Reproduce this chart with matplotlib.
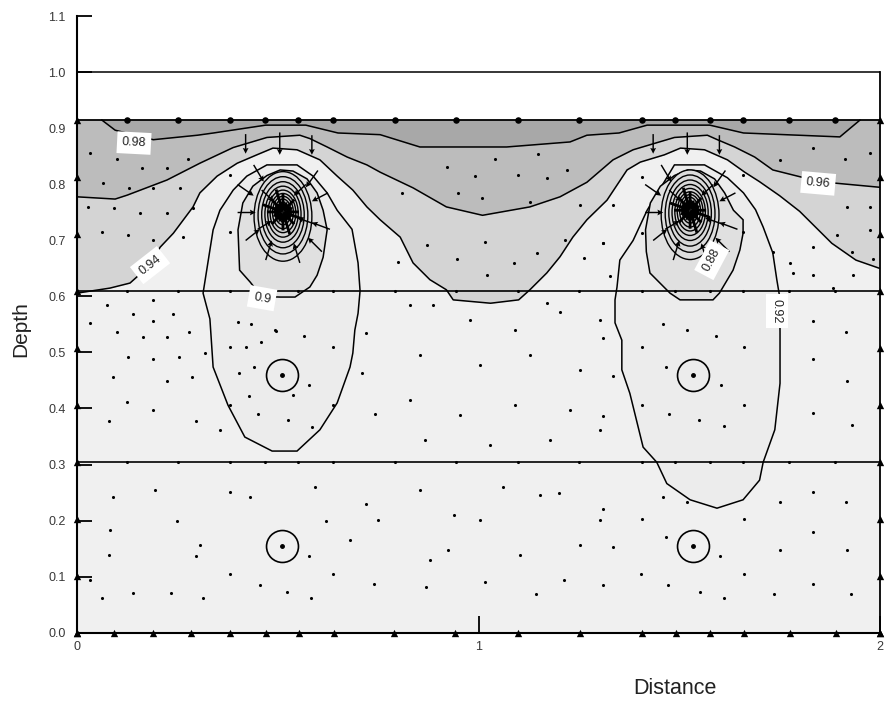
import numpy as np
import matplotlib
matplotlib.use("Agg")
import matplotlib.pyplot as plt
from matplotlib.patches import Ellipse

plt.rcParams['font.family'] = ['Liberation Sans', 'DejaVu Sans']

# ---------------- data ----------------
y_ticks = [0.0, 0.1, 0.2, 0.3, 0.4, 0.5, 0.6, 0.7, 0.8, 0.9, 1.0, 1.1]
y_tick_labels = ['0.0', '0.1', '0.2', '0.3', '0.4', '0.5', '0.6', '0.7', '0.8', '0.9', '1.0', '1.1']
x_ticks = [0, 1, 2]
x_tick_labels = ['0', '1', '2']

ground = 0.915
top_line = 1.0
layers = [0.305, 0.61]

# open contours spanning the section (value, x, y)
c98_x = [0.062, 0.095, 0.19, 0.30, 0.34, 0.47, 0.57, 0.65, 0.755, 0.854, 1.07, 1.228, 1.27, 1.35, 1.42, 1.576, 1.66, 1.90, 1.95]
c98_y = [0.915, 0.897, 0.880, 0.888, 0.892, 0.906, 0.906, 0.892, 0.889, 0.867, 0.867, 0.876, 0.888, 0.892, 0.906, 0.906, 0.892, 0.885, 0.915]

c96_x = [0.0, 0.095, 0.125, 0.224, 0.306, 0.389, 0.473, 0.555, 0.58, 0.623, 0.673, 0.722, 0.755, 0.837, 0.92, 1.01, 1.128, 1.203, 1.27, 1.335, 1.385, 1.488, 1.57, 1.595, 1.638, 1.688, 1.733, 1.85, 2.0]
c96_y = [0.778, 0.774, 0.781, 0.808, 0.838, 0.866, 0.884, 0.888, 0.882, 0.867, 0.849, 0.835, 0.822, 0.794, 0.760, 0.745, 0.760, 0.778, 0.804, 0.844, 0.862, 0.884, 0.888, 0.880, 0.867, 0.849, 0.826, 0.805, 0.795]

c94_x = [0.0, 0.082, 0.132, 0.182, 0.207, 0.24, 0.289, 0.306, 0.349, 0.399, 0.448, 0.488, 0.548, 0.605, 0.648, 0.687, 0.722, 0.755, 0.805, 0.837, 0.879, 0.92, 0.937, 1.03, 1.10, 1.128, 1.17, 1.203, 1.235, 1.27, 1.32, 1.37, 1.403, 1.463, 1.503, 1.563, 1.62, 1.663, 1.70, 1.75, 1.80, 1.88, 1.94, 2.0]
c94_y = [0.606, 0.615, 0.624, 0.656, 0.688, 0.713, 0.760, 0.785, 0.815, 0.838, 0.853, 0.865, 0.862, 0.844, 0.815, 0.790, 0.760, 0.737, 0.706, 0.660, 0.630, 0.612, 0.594, 0.588, 0.594, 0.612, 0.642, 0.671, 0.706, 0.737, 0.772, 0.826, 0.840, 0.853, 0.865, 0.862, 0.844, 0.822, 0.805, 0.780, 0.752, 0.695, 0.665, 0.650]

# closed 0.92 contours
l92_x = [0.473, 0.548, 0.588, 0.623, 0.648, 0.685, 0.70, 0.705, 0.70, 0.692, 0.687, 0.68, 0.648, 0.605, 0.548, 0.486, 0.418, 0.376, 0.339, 0.334, 0.331, 0.314, 0.331, 0.339, 0.356, 0.389, 0.423]
l92_y = [0.835, 0.835, 0.815, 0.785, 0.754, 0.720, 0.660, 0.610, 0.570, 0.540, 0.499, 0.474, 0.410, 0.362, 0.324, 0.324, 0.349, 0.406, 0.474, 0.528, 0.560, 0.606, 0.683, 0.719, 0.754, 0.790, 0.815]
r92_x = [1.488, 1.563, 1.62, 1.66, 1.69, 1.709, 1.733, 1.743, 1.75, 1.751, 1.751, 1.738, 1.709, 1.70, 1.659, 1.594, 1.527, 1.469, 1.444, 1.41, 1.377, 1.357, 1.357, 1.34, 1.34, 1.345, 1.352, 1.385, 1.42, 1.452]
r92_y = [0.835, 0.835, 0.812, 0.785, 0.755, 0.724, 0.678, 0.630, 0.600, 0.537, 0.445, 0.362, 0.304, 0.272, 0.237, 0.222, 0.237, 0.266, 0.304, 0.331, 0.427, 0.469, 0.522, 0.553, 0.594, 0.617, 0.665, 0.700, 0.754, 0.792]

# closed 0.90 contours
l90_x = [0.506, 0.538, 0.573, 0.598, 0.613, 0.623, 0.613, 0.598, 0.58, 0.543, 0.506, 0.46, 0.431, 0.405, 0.401, 0.413, 0.438, 0.473]
l90_y = [0.826, 0.824, 0.810, 0.785, 0.754, 0.719, 0.670, 0.638, 0.617, 0.599, 0.599, 0.600, 0.626, 0.647, 0.719, 0.767, 0.797, 0.816]
r90_x = [1.521, 1.553, 1.588, 1.613, 1.635, 1.659, 1.659, 1.651, 1.634, 1.60, 1.584, 1.502, 1.477, 1.427, 1.418, 1.416, 1.428, 1.453, 1.488]
r90_y = [0.826, 0.824, 0.810, 0.785, 0.754, 0.737, 0.713, 0.683, 0.647, 0.606, 0.594, 0.594, 0.606, 0.642, 0.680, 0.719, 0.767, 0.797, 0.816]

# drains (singular points) and inner rings (0.88, 0.86, ... ) half sizes
sink_x = [0.513, 1.527]
sink_y = [0.751, 0.754]
ring_hw = [0.072, 0.062, 0.053, 0.045, 0.038, 0.032, 0.026, 0.020, 0.015, 0.010, 0.006]
ring_hh = [0.080, 0.069, 0.059, 0.050, 0.042, 0.035, 0.029, 0.023, 0.017, 0.012, 0.007]
ring_dy = [-0.008, -0.006, -0.005, -0.004, -0.003, -0.002, -0.001, 0.0, 0.0, 0.0, 0.0]
ring_gray = ['#dcdcdc', '#dadada', '#d8d8d8', '#d6d6d6', '#d4d4d4', '#d2d2d2', '#d0d0d0', '#cecece', '#cccccc', '#cacaca', '#c8c8c8']

# band fills
col_low = '#f0f0f0'
col_94 = '#d4d4d4'
col_96 = '#bcbcbc'
col_98 = '#a8a8a8'
col_92 = '#ececec'
col_90 = '#e0e0e0'

# contour labels: text, x, y, rotation
lab_txt = ['0.98', '0.96', '0.94', '0.9', '0.88', '0.92']
lab_x = [0.142, 1.846, 0.182, 0.461, 1.581, 1.743]
lab_y = [0.874, 0.802, 0.656, 0.597, 0.665, 0.574]
lab_rot = [-3, -5, 38, -10, 62, -90]

# boundary nodes
top_nodes_x = [0.125, 0.252, 0.381, 0.468, 0.55, 0.638, 0.792, 0.944, 1.098, 1.25, 1.407, 1.489, 1.577, 1.659, 1.773, 1.888]
bottom_nodes_x = [0.0, 0.092, 0.189, 0.284, 0.381, 0.47, 0.552, 0.64, 0.79, 0.941, 1.098, 1.253, 1.407, 1.492, 1.577, 1.661, 1.776, 1.89, 2.0]
side_nodes_y = [0.0, 0.1017, 0.203, 0.305, 0.407, 0.508, 0.61, 0.712, 0.813, 0.915]

# observation circles
circ_x = [0.511, 0.511, 1.534, 1.534]
circ_y = [0.46, 0.154, 0.46, 0.154]

# interior points
pts_x = [0.079, 0.296, 0.577, 0.925, 1.601, 1.751, 1.918, 0.38, 0.638, 1.405, 1.661, 0.456, 0.74, 0.868, 1.015, 1.214, 1.31, 1.473, 1.833,
         0.062, 0.14, 0.235, 0.313, 0.524, 0.584, 1.142, 1.552, 1.611, 1.736, 1.929,
         0.032, 0.1, 0.162, 0.224, 0.276, 0.065, 0.13, 0.189, 0.257, 0.027, 0.092, 0.157, 0.224, 0.289, 0.062, 0.127, 0.189, 0.264, 0.381, 0.381,
         0.922, 1.041, 1.148, 1.22, 1.009, 1.128, 1.253, 0.809, 0.872, 1.016, 1.146, 1.215, 1.31, 1.335, 0.949, 0.991, 1.171, 1.098, 0.946, 1.088, 1.021, 1.263, 0.8, 0.887, 1.171, 1.328,
         0.075, 0.189, 0.189, 0.1, 0.139, 0.239, 0.279, 0.032, 0.164, 0.224, 0.127, 0.189, 0.254, 0.319, 0.09, 0.224, 0.286, 0.125, 0.189, 0.08, 0.296, 0.356,
         0.381, 0.421, 0.441, 0.451, 0.526, 0.493, 0.433, 0.401, 0.458, 0.403, 0.428, 0.538,
         0.496, 0.565, 0.72, 0.638, 0.578, 0.71, 0.585, 0.742, 0.638, 0.381,
         1.31, 1.407, 1.46, 1.519, 1.592, 1.661, 1.833, 1.915, 1.335, 1.467, 1.604, 1.833, 1.918, 1.407, 1.474, 1.549, 1.611, 1.661, 1.833, 1.93, 1.31,
         1.46, 1.519, 1.751, 1.833, 1.915, 1.31, 1.407, 1.661, 1.833, 1.467, 1.335,
         1.833, 1.913, 1.975, 1.918, 1.975, 1.893, 1.975, 1.93, 1.983, 1.833, 1.776, 1.751, 1.659, 1.407, 1.31, 1.407, 1.659, 1.733, 1.783, 1.833, 1.883, 1.933,
         0.829, 0.979, 1.091, 1.203, 1.303, 0.854, 1.004, 1.128, 1.253, 0.829, 0.954, 1.091, 1.228, 0.867, 1.029, 1.178, 1.303,
         0.09, 0.194, 0.381, 0.593, 0.75, 0.431, 0.082, 0.306, 0.68, 0.854, 1.004, 1.153, 1.303, 0.879, 1.103, 1.253, 0.032, 0.72, 0.62, 0.25, 1.06, 1.2, 0.94]
pts_y = [0.139, 0.137, 0.137, 0.147, 0.137, 0.147, 0.147, 0.104, 0.104, 0.104, 0.104, 0.084, 0.087, 0.082, 0.09, 0.093, 0.084, 0.084, 0.087,
         0.062, 0.071, 0.071, 0.062, 0.073, 0.062, 0.068, 0.073, 0.062, 0.068, 0.068,
         0.856, 0.846, 0.829, 0.829, 0.846, 0.803, 0.794, 0.794, 0.794, 0.76, 0.758, 0.749, 0.749, 0.758, 0.715, 0.71, 0.701, 0.706, 0.817, 0.715,
         0.831, 0.846, 0.854, 0.826, 0.776, 0.769, 0.763, 0.785, 0.692, 0.697, 0.678, 0.701, 0.696, 0.763, 0.785, 0.815, 0.812, 0.817, 0.667, 0.66, 0.638, 0.668, 0.662, 0.585, 0.588, 0.637,
         0.585, 0.594, 0.556, 0.537, 0.569, 0.569, 0.537, 0.553, 0.528, 0.528, 0.492, 0.488, 0.492, 0.499, 0.456, 0.449, 0.456, 0.411, 0.398, 0.377, 0.377, 0.362,
         0.51, 0.51, 0.474, 0.39, 0.379, 0.54, 0.551, 0.554, 0.519, 0.463, 0.422, 0.424,
         0.538, 0.529, 0.535, 0.51, 0.442, 0.463, 0.367, 0.39, 0.406, 0.406,
         0.526, 0.51, 0.551, 0.54, 0.529, 0.51, 0.556, 0.537, 0.458, 0.474, 0.442, 0.488, 0.449, 0.406, 0.39, 0.379, 0.369, 0.406, 0.392, 0.371, 0.387,
         0.242, 0.233, 0.233, 0.251, 0.233, 0.221, 0.203, 0.203, 0.18, 0.171, 0.153,
         0.865, 0.846, 0.856, 0.76, 0.76, 0.71, 0.719, 0.679, 0.667, 0.688, 0.66, 0.844, 0.817, 0.713, 0.696, 0.813, 0.715, 0.679, 0.642, 0.638, 0.615, 0.638,
         0.585, 0.558, 0.54, 0.572, 0.558, 0.496, 0.478, 0.496, 0.469, 0.415, 0.388, 0.406, 0.397, 0.344, 0.335, 0.344, 0.362,
         0.242, 0.254, 0.251, 0.26, 0.201, 0.242, 0.183, 0.156, 0.165, 0.254, 0.201, 0.246, 0.201, 0.129, 0.138, 0.156, 0.094, 0.23, 0.2, 0.2, 0.26, 0.25, 0.21]

# flow arrows around the drains: tail x, tail y, dx, dy
arr_x = [0.42, 0.505, 0.585, 0.40, 0.44, 0.60, 0.625, 0.63, 0.61, 0.555, 0.47, 0.42, 0.40, 0.46, 0.57, 0.59, 0.45,
         1.435, 1.52, 1.60, 1.415, 1.455, 1.615, 1.64, 1.645, 1.625, 1.57, 1.485, 1.435, 1.415, 1.475, 1.585, 1.605, 1.465]
arr_y = [0.89, 0.893, 0.888, 0.80, 0.835, 0.825, 0.785, 0.72, 0.68, 0.66, 0.665, 0.70, 0.75, 0.79, 0.80, 0.73, 0.72,
         0.89, 0.893, 0.888, 0.80, 0.835, 0.825, 0.785, 0.72, 0.68, 0.66, 0.665, 0.70, 0.75, 0.79, 0.80, 0.73, 0.72]
arr_dx = [0.0, 0.0, 0.0, 0.04, 0.025, -0.03, -0.04, -0.045, -0.035, -0.015, 0.015, 0.035, 0.045, 0.03, -0.03, -0.04, 0.035,
          0.0, 0.0, 0.0, 0.04, 0.025, -0.03, -0.04, -0.045, -0.035, -0.015, 0.015, 0.035, 0.045, 0.03, -0.03, -0.04, 0.035]
arr_dy = [-0.035, -0.04, -0.035, -0.02, -0.03, -0.03, -0.015, 0.012, 0.025, 0.035, 0.035, 0.02, 0.0, -0.02, -0.02, 0.01, 0.015,
          -0.035, -0.04, -0.035, -0.02, -0.03, -0.03, -0.015, 0.012, 0.025, 0.035, 0.035, 0.02, 0.0, -0.02, -0.02, 0.01, 0.015]
# star of converging vectors at each drain: offsets of the spokes
star_dx = [0.04, 0.028, 0.0, -0.028, -0.04, -0.028, 0.0, 0.028, 0.05, -0.05, 0.017, -0.017]
star_dy = [0.0, 0.022, 0.033, 0.022, 0.0, -0.022, -0.033, -0.022, -0.013, 0.013, -0.04, 0.04]

# ---------------- drawing ----------------
fig = plt.figure(figsize=(8.96, 7.02), dpi=100)
ax = fig.add_axes([77 / 896, (702 - 632.5) / 702, 803 / 896, 616 / 702])
ax.set_xlim(0, 2)
ax.set_ylim(0, 1.1)

# bands
ax.fill_between([0, 2], 0, ground, color=col_low, lw=0, zorder=1)
ax.fill_between(c94_x, c94_y, ground, color=col_94, lw=0, zorder=2)
ax.fill_between(c96_x, c96_y, ground, color=col_96, lw=0, zorder=3)
ax.fill_between(c98_x, c98_y, ground, color=col_98, lw=0, zorder=4)
for xs, ys in [(l92_x, l92_y), (r92_x, r92_y)]:
    ax.fill(xs, ys, facecolor=col_92, edgecolor='black', lw=1.1, zorder=5)
for xs, ys in [(l90_x, l90_y), (r90_x, r90_y)]:
    ax.fill(xs, ys, facecolor=col_90, edgecolor='black', lw=1.1, zorder=6)
for sx, sy in zip(sink_x, sink_y):
    for hw, hh, dy, gc in zip(ring_hw, ring_hh, ring_dy, ring_gray):
        ax.add_patch(Ellipse((sx, sy + dy), 2 * hw, 2 * hh, facecolor=gc,
                             edgecolor='black', lw=1.0, zorder=7))
for xs, ys in [(c94_x, c94_y), (c96_x, c96_y), (c98_x, c98_y)]:
    ax.plot(xs, ys, color='black', lw=1.1, zorder=8)

# section geometry
ax.plot([0, 2], [ground, ground], color='black', lw=1.3, zorder=9)
ax.plot([0, 2], [top_line, top_line], color='black', lw=1.1, zorder=9)
ax.plot([2, 2], [0, top_line], color='black', lw=1.3, zorder=9, clip_on=False)
for ly in layers:
    ax.plot([0, 2], [ly, ly], color='black', lw=1.2, zorder=9)

# points
ax.scatter(pts_x, pts_y, s=5, color='black', zorder=10, lw=0)
for ly in layers:
    ax.scatter(top_nodes_x, [ly] * len(top_nodes_x), s=5, color='black', zorder=10, lw=0)
ax.scatter(top_nodes_x, [ground] * len(top_nodes_x), s=22, color='black', zorder=10, lw=0)
ax.scatter(bottom_nodes_x, [0] * len(bottom_nodes_x), s=28, marker='^', color='black', zorder=10, lw=0, clip_on=False)
ax.scatter([0] * len(side_nodes_y), side_nodes_y, s=28, marker='^', color='black', zorder=10, lw=0, clip_on=False)
ax.scatter([2] * len(side_nodes_y), side_nodes_y, s=28, marker='^', color='black', zorder=10, lw=0, clip_on=False)

# observation circles
ax.plot(circ_x, circ_y, 'o', ms=23, mfc='none', mec='black', mew=1.2, ls='none', zorder=10)
ax.plot(circ_x, circ_y, 'o', ms=2.5, color='black', ls='none', zorder=10)

# flow vectors
ax.quiver(arr_x, arr_y, arr_dx, arr_dy, angles='xy', scale_units='xy', scale=1,
          width=0.0018, headwidth=4, headlength=4, headaxislength=3.5, color='black', zorder=11)
for sx, sy in zip(sink_x, sink_y):
    tx = [sx + d for d in star_dx]
    ty = [sy + d for d in star_dy]
    ax.quiver(tx, ty, [-d for d in star_dx], [-d for d in star_dy], angles='xy', scale_units='xy', scale=1,
              width=0.0035, headwidth=3.5, headlength=3.5, headaxislength=3, color='black', zorder=11)

# contour labels
for t, x, y, r in zip(lab_txt, lab_x, lab_y, lab_rot):
    ax.text(x, y, t, rotation=r, ha='center', va='center', fontsize=9, color='#222222', zorder=12,
            rotation_mode='anchor', bbox=dict(facecolor='white', edgecolor='none', pad=3.5))

# axes styling
for s in ['top', 'right']:
    ax.spines[s].set_visible(False)
ax.spines['left'].set_linewidth(1.5)
ax.spines['bottom'].set_linewidth(1.5)
ax.spines['left'].set_zorder(13)
ax.spines['bottom'].set_zorder(13)
ax.set_yticks(y_ticks)
ax.set_yticklabels(y_tick_labels)
ax.set_xticks(x_ticks)
ax.set_xticklabels(x_tick_labels)
ax.tick_params(axis='y', direction='in', length=11, width=1.3, pad=8, labelsize=9, labelcolor='#383838')
ax.tick_params(axis='x', direction='in', length=12, width=1.3, pad=6, labelsize=9, labelcolor='#383838')
for tl in ax.get_xticklines() + ax.get_yticklines():
    tl.set_zorder(14)

fig.text(675 / 896, 1 - 688 / 702, 'Distance', ha='center', va='center', fontsize=15.5, color='#222222')
fig.text(21 / 896, 1 - 329 / 702, 'Depth', ha='center', va='center', fontsize=15, rotation=90, color='#222222')

fig.savefig('out.png', dpi=100)
